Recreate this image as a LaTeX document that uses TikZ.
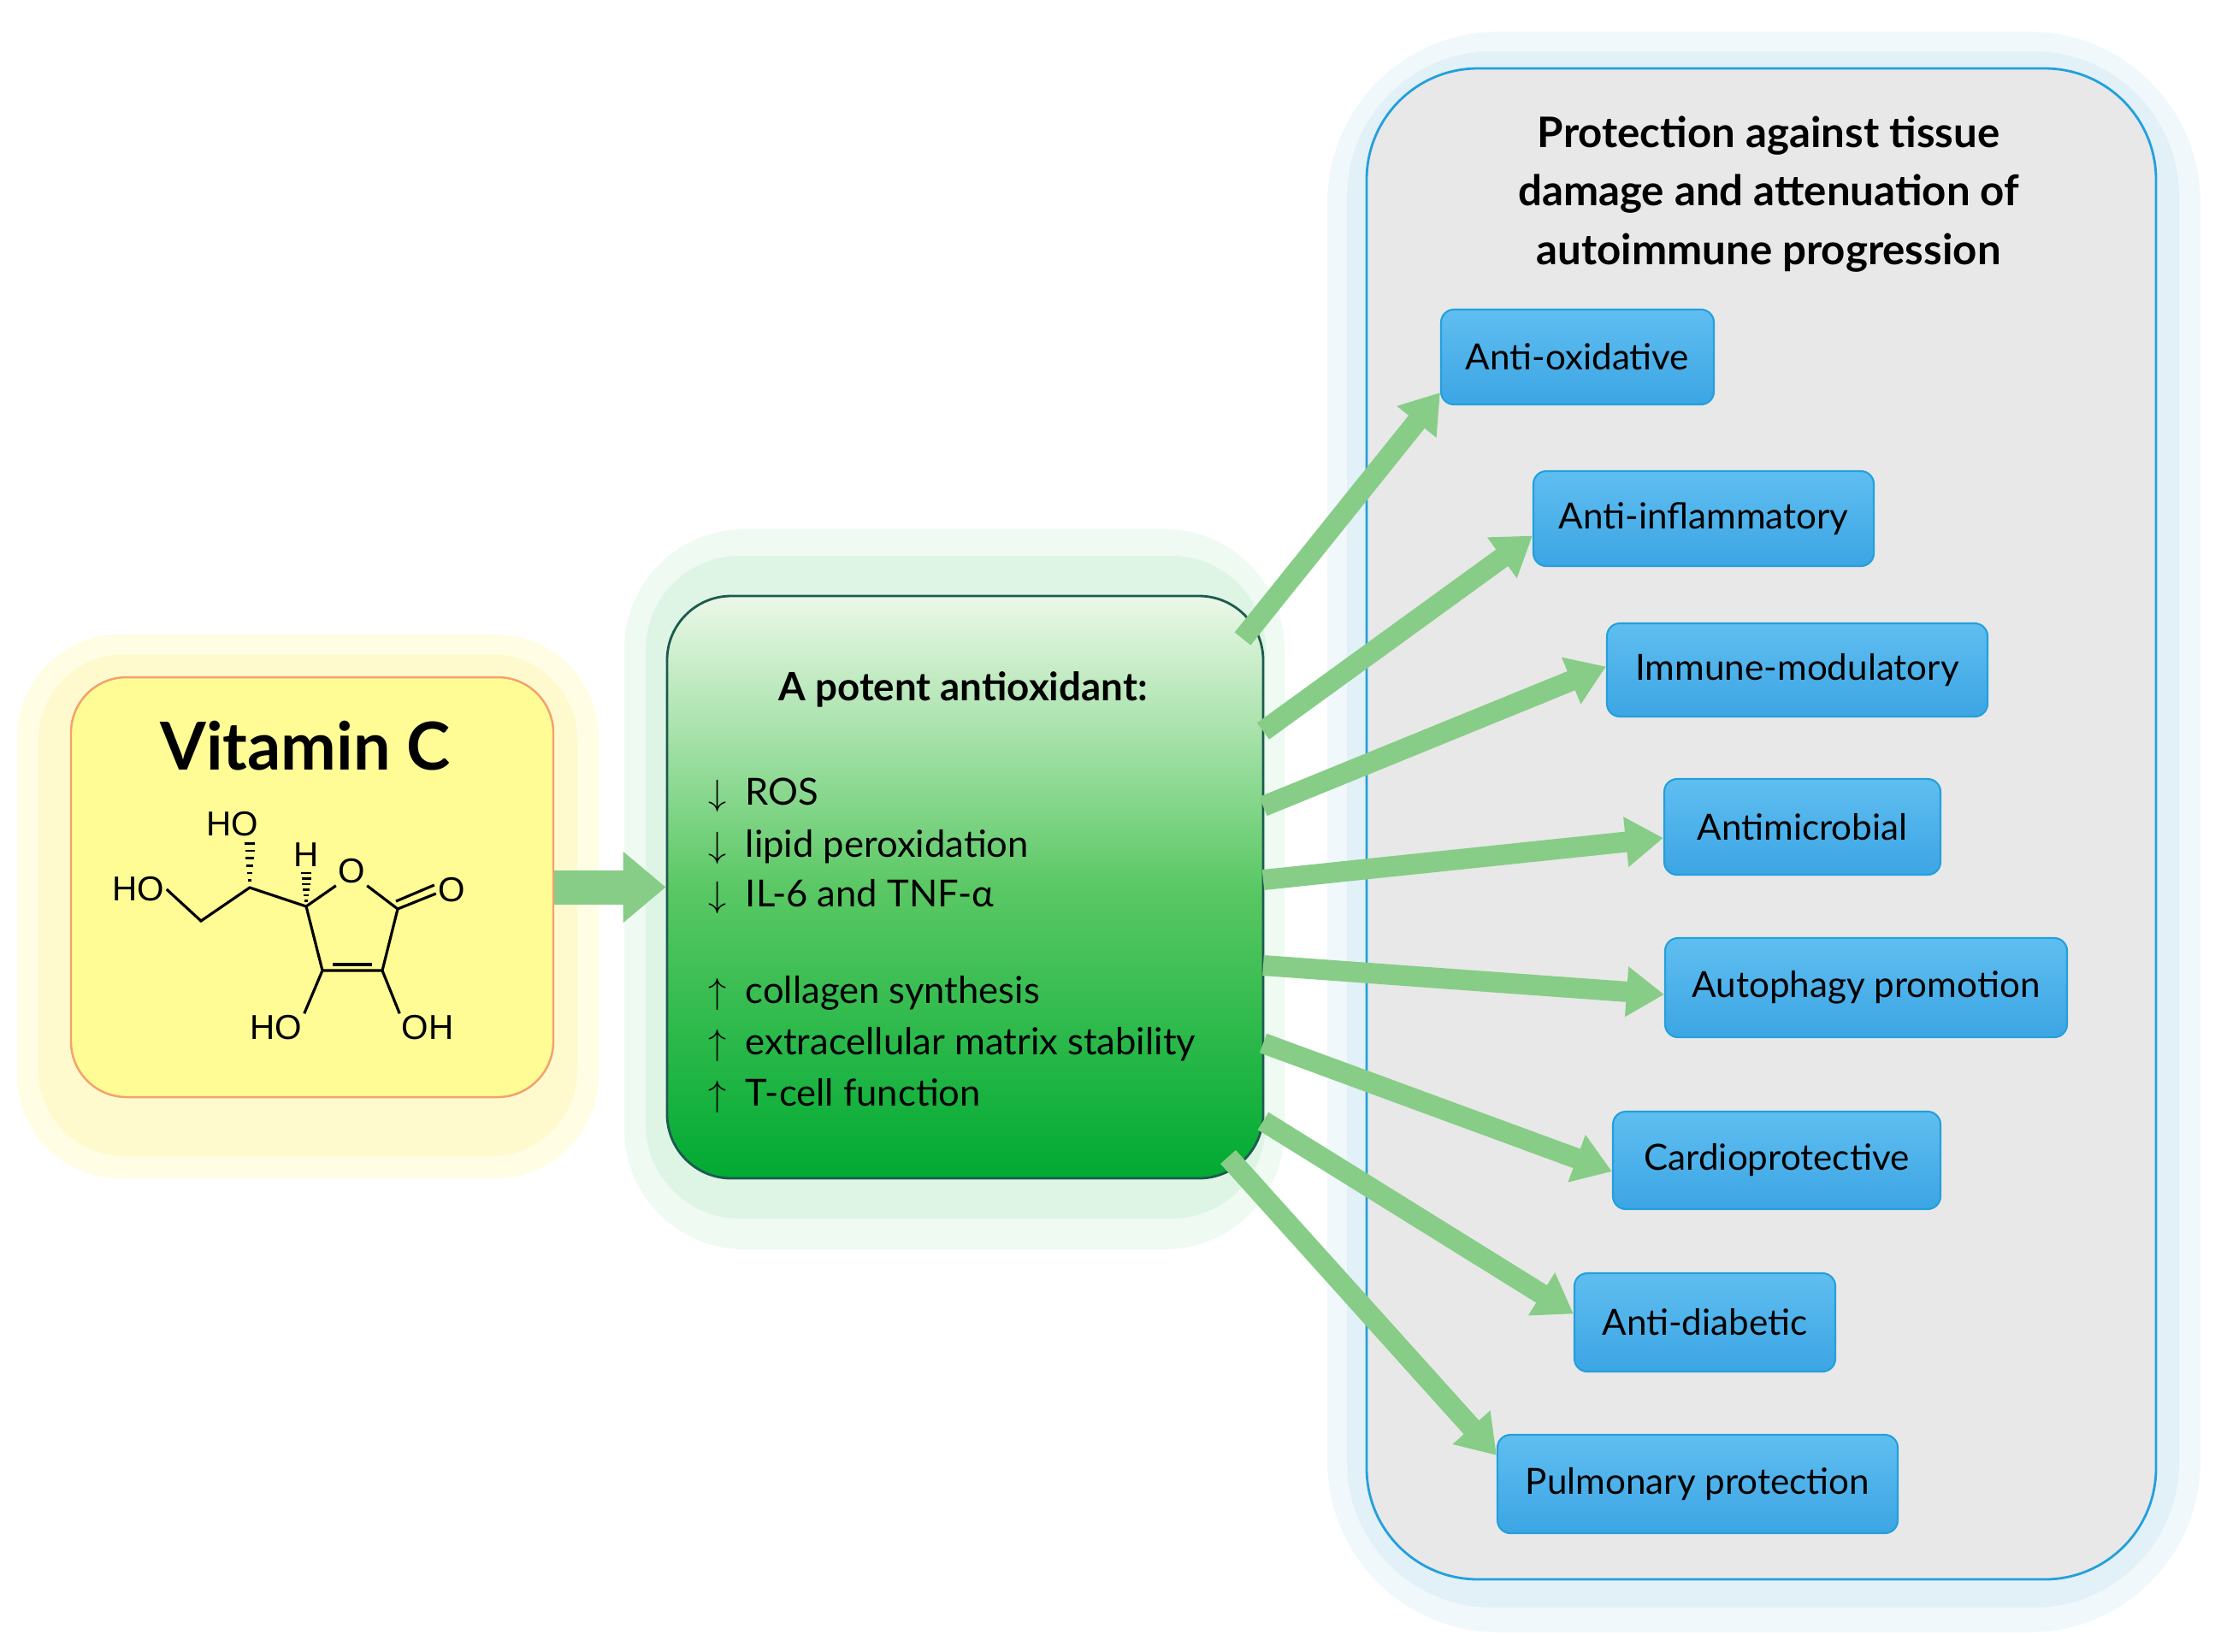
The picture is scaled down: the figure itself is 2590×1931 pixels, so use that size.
\documentclass[tikz,border=0pt]{standalone}
\usepackage{fontspec}
\setmainfont{Lato}
\newfontfamily\molfont{Liberation Sans}
\usetikzlibrary{arrows.meta,calc}
\definecolor{arrgreen}{RGB}{135,205,135}
\definecolor{boxblue}{RGB}{95,190,240}
\definecolor{boxblueb}{RGB}{60,165,228}
\definecolor{borderblue}{RGB}{35,160,220}
\definecolor{panelgray}{RGB}{232,232,232}
\definecolor{glowblue}{RGB}{226,240,248}
\definecolor{glowblue2}{RGB}{240,248,252}
\definecolor{yel}{RGB}{255,252,150}
\definecolor{yelglow}{RGB}{255,250,205}
\definecolor{yelglow2}{RGB}{255,253,228}
\definecolor{orangeb}{RGB}{245,160,110}
\definecolor{gdark}{RGB}{0,170,50}
\definecolor{glight}{RGB}{235,248,232}
\definecolor{gglow}{RGB}{222,245,230}
\definecolor{gglow2}{RGB}{238,250,242}
\tikzset{
  x=0.1mm, y=-0.1mm,
  eff/.style={draw=borderblue, line width=0.6pt, rounded corners=1.5mm,
    top color=boxblue, bottom color=boxblueb, font=\fontsize{12}{14}\selectfont, inner sep=0pt},
  fat/.style={draw=arrgreen, line width=2.4mm, -{Triangle[width=5.6mm,length=4.4mm]}},
  bond/.style={line width=0.9pt},
  lab/.style={font=\molfont\fontsize{11.5}{12}\selectfont, inner sep=0.5pt},
  txt/.style={font=\fontsize{12.4}{14}\selectfont, anchor=west, inner sep=0pt}
}
\begin{document}
\begin{tikzpicture}
\useasboundingbox (0,0) rectangle (2590,1931);
% ---------- Vitamin C ----------
\fill[yelglow2, rounded corners=12mm] (20,742) rectangle (700,1378);
\fill[yelglow, rounded corners=10mm] (45,765) rectangle (675,1352);
\node[draw=orangeb, line width=0.7pt, fill=yel, rounded corners=6.5mm,
  minimum width=56.4mm, minimum height=49.1mm] (vit) at (365,1037.5) {};
\node[font=\bfseries\fontsize{22}{26}\selectfont] (vt) at (357,872) {Vitamin C};
% molecule
\node[lab] (ho1) at (162,1040) {HO};
\coordinate (c1) at (235,1077);
\coordinate (c2) at (292,1038);
\node[lab] (ho2) at (272,964) {HO};
\coordinate (c3) at (358,1060);
\node[lab] (h3) at (358,1000) {H};
\node[lab] (or) at (411,1019) {O};
\coordinate (c4) at (465,1063);
\node[lab] (o4) at (528,1041) {O};
\coordinate (c5) at (447,1135);
\coordinate (c6) at (377,1135);
\node[lab] (ho6) at (323,1202) {HO};
\node[lab] (oh5) at (500,1202) {OH};
\draw[bond] (ho1.east) -- (c1) -- (c2) -- (c3) -- (or.south west);
\draw[bond] (or.south east) -- (c4) -- (c5) -- (c6) -- (c3);
\draw[bond] ($(c6)+(12,-7)$) -- ($(c5)+(-12,-7)$);
\draw[bond] (c4) -- ($(o4.west)+(0,4)$);
\draw[bond] ($(c4)+(-2,-9)$) -- ($(o4.west)+(-2,-6)$);
\draw[bond] (c6) -- (ho6.north east);
\draw[bond] (c5) -- (oh5.north west);
\foreach \t in {0.15,0.3,0.45,0.6,0.75,0.9}{
  \draw[line width=0.7pt] ($(c2)!\t!(ho2.south -| c2)+(-6*\t-1,0)$) -- ($(c2)!\t!(ho2.south -| c2)+(6*\t+1,0)$);
  \draw[line width=0.7pt] ($(c3)!\t!(h3.south)+(-6*\t-1,0)$) -- ($(c3)!\t!(h3.south)+(6*\t+1,0)$);
}
% ---------- Green box ----------
\fill[gglow2, rounded corners=14mm] (730,619) rectangle (1502,1461);
\fill[gglow, rounded corners=11mm] (755,650) rectangle (1480,1425);
\node[draw={rgb,255:red,30;green,90;blue,80}, line width=0.8pt, rounded corners=7.5mm,
  top color=glight, bottom color=gdark, middle color={rgb,255:red,90;green,200;blue,100},
  minimum width=69.7mm, minimum height=68.1mm] (ant) at (1128.5,1037.5) {};
\node[font=\bfseries\fontsize{13}{15}\selectfont] (antt) at (1126,806) {A potent antioxidant:};
\node[txt] (l1) at (828,930) {$\downarrow$\hspace{2.2mm}ROS};
\node[txt] (l2) at (828,991) {$\downarrow$\hspace{2.2mm}lipid peroxidation};
\node[txt] (l3) at (828,1049) {$\downarrow$\hspace{2.2mm}IL-6 and TNF-α};
\node[txt] (l4) at (828,1162) {$\uparrow$\hspace{2.2mm}collagen synthesis};
\node[txt] (l5) at (828,1222) {$\uparrow$\hspace{2.2mm}extracellular matrix stability};
\node[txt] (l6) at (828,1282) {$\uparrow$\hspace{2.2mm}T-cell function};
% arrow vitamin -> antioxidant
\draw[draw=arrgreen, line width=4mm, -{Triangle[width=8mm,length=5mm]}] (vit.east) -- (ant.west);
% ---------- Panel ----------
\fill[glowblue2, rounded corners=20mm] (1552,37) rectangle (2573,1909);
\fill[glowblue, rounded corners=17mm] (1575,60) rectangle (2548,1880);
\node[draw=borderblue, line width=0.8pt, fill=panelgray, rounded corners=13mm,
  minimum width=92.3mm, minimum height=176.7mm] (panel) at (2059.5,963.5) {};
\node[font=\bfseries\fontsize{14}{19.5}\selectfont, align=center] (pt) at (2068,227)
  {Protection against tissue\\damage and attenuation of\\autoimmune progression};
% effect boxes
\node[eff, minimum width=31.9mm, minimum height=11.1mm] (ao) at (1844.5,417.5) {Anti-oxidative};
\node[eff, minimum width=39.8mm, minimum height=11.1mm] (ai) at (1992,606.5) {Anti-inflammatory};
\node[eff, minimum width=44.5mm, minimum height=10.9mm] (im) at (2101.5,783.5) {Immune-modulatory};
\node[eff, minimum width=32.3mm, minimum height=11.2mm] (am) at (2107.5,967) {Antimicrobial};
\node[eff, minimum width=47mm, minimum height=11.6mm] (ap) at (2182,1155) {Autophagy promotion};
\node[eff, minimum width=38.3mm, minimum height=11.4mm] (cp) at (2077.5,1357) {Cardioprotective};
\node[eff, minimum width=30.5mm, minimum height=11.5mm] (ad) at (1993.5,1546.5) {Anti-diabetic};
\node[eff, minimum width=46.8mm, minimum height=11.5mm] (pp) at (1985,1735.5) {Pulmonary protection};
% arrows
\coordinate (s1) at (1453,747);
\coordinate (s2) at (1477,855);
\coordinate (s3) at (1477,943);
\coordinate (s4) at (1477,1029);
\coordinate (s5) at (1477,1129);
\coordinate (s6) at (1477,1220);
\coordinate (s7) at (1477,1311);
\coordinate (s8) at (1436,1353);
\draw[fat] (s1) -- ($(ao.south west)+(0,-15)$);
\draw[fat] (s2) -- ($(ai.west)+(0,20)$);
\draw[fat] (s3) -- ($(im.west)+(0,-4)$);
\draw[fat] (s4) -- ($(am.west)+(0,13)$);
\draw[fat] (s5) -- ($(ap.west)+(0,8)$);
\draw[fat] (s6) -- ($(cp.west)+(0,13)$);
\draw[fat] (s7) -- ($(ad.west)+(0,-10)$);
\draw[fat] (s8) -- ($(pp.north west)+(0,25)$);
\end{tikzpicture}
\end{document}
